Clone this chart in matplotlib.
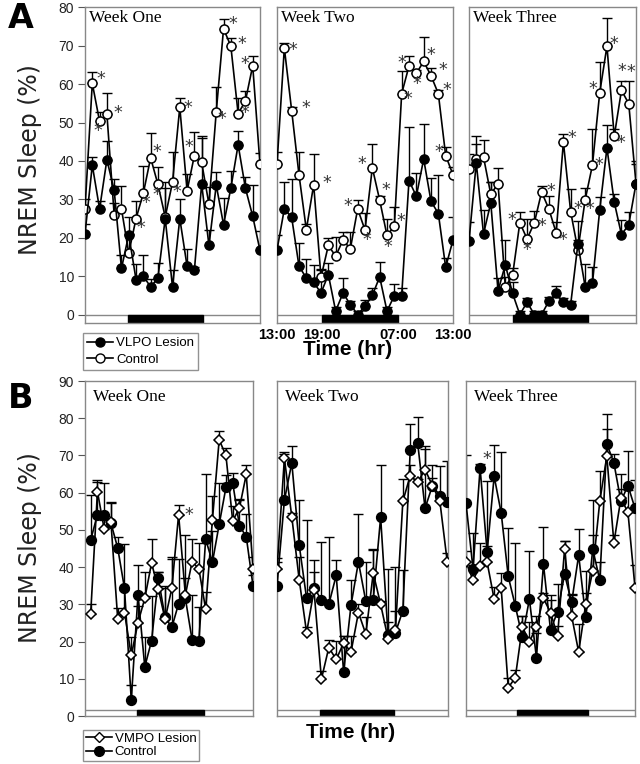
import numpy as np
import matplotlib
matplotlib.use('Agg')
import matplotlib.pyplot as plt
from matplotlib.lines import Line2D
from matplotlib.patches import Rectangle

plt.rcParams['font.family'] = ['Liberation Sans', 'DejaVu Sans']

# ---------------- data (hourly bins, 13:00 -> 13:00) ----------------
hours = np.arange(25)
hours_w3a = np.arange(1, 25)
hours_w2b = np.arange(24)

# Panel A: VLPO lesion (filled) vs control (open)
a1_ctrl = [27.5, 60.2, 50.3, 52.3, 26, 27.5, 16, 25, 31.6, 40.8, 33.9, 25.4, 34.4, 54, 32.2,
           41.4, 39.6, 28.7, 52.8, 74.4, 69.9, 52.3, 55.6, 64.8, 39.1]
a1_ctrl_err = [2.7, 3, 2.5, 5.3, 3, 6, 5, 4.5, 7, 6.5, 4.5, 9, 8, 2.5, 4.5,
               6, 7, 4.5, 6.5, 2.5, 2, 4, 2.5, 2.5, 3]
a1_les = [21, 38.9, 27.5, 40.3, 32.4, 12, 20.8, 9.1, 10, 7.2, 9.5, 25, 7.2, 25, 12.6,
          11.5, 34, 18, 33.7, 23.4, 32.9, 44.2, 32.9, 25.6, 16.7]
a1_les_err = [2.5, 2, 2, 5, 3, 3.5, 4.5, 4, 5.5, 2, 4, 8, 4.5, 5, 4.5,
              1, 12, 4, 3.5, 7, 4.5, 3.5, 3, 8, 5]

a2_ctrl = [39.2, 69.4, 53.1, 36.4, 22.1, 33.8, 9.7, 18, 15.2, 19.4, 17.1, 27.5, 22, 38.2, 29.8,
           20.6, 23, 57.5, 64.7, 62.8, 65.9, 62.2, 57.5, 41.4, 36.4]
a2_ctrl_err = [3, 1.3, 1, 6, 1.6, 8, 2.2, 2, 5, 2, 4.3, 2.2, 4.5, 6.3, 1,
               4.4, 5, 6, 2.7, 1, 6.4, 2, 1, 2.3, 2]
a2_les = [16.8, 27.5, 25.3, 12.6, 9.5, 8.4, 5.6, 10.4, 0.9, 5.6, 2.6, 0, 2.2, 5, 9.8,
          0.9, 4.9, 4.9, 34.9, 30.8, 40.5, 29.5, 26.3, 12.3, 19.4]
a2_les_err = [4, 7, 10, 6, 5, 4.5, 6, 3, 1, 4, 1, 1, 1.5, 2, 4,
              1, 3, 2, 14, 6, 9, 6, 10, 2.5, 6]

a3_ctrl = [37.8, 40.4, 41, 31.3, 34.1, 7.2, 10.2, 23.9, 19.7, 23.9, 31.9, 27.5, 21.3, 44.9,
           26.8, 16.8, 29.9, 38.9, 57.7, 69.9, 46.4, 58.4, 54.9, 34.1]
a3_ctrl_err = [4, 6, 4.4, 3.2, 4.1, 2.6, 2, 2.8, 5.3, 3, 1.5, 3.3, 2.7, 2.2,
               5.9, 7.5, 3, 9.5, 8, 7.4, 2, 2.4, 5.9, 6]
a3_les = [19.1, 39.5, 21, 29.1, 6.1, 13, 5.5, 0, 3.2, 0, 0, 3.5, 5.5, 3.2,
          2.6, 18.4, 7.2, 8.1, 27.2, 43.4, 29.3, 20.8, 23.4, 34.1]
a3_les_err = [5, 5, 6.3, 5.4, 3.4, 6.5, 3, 1, 1, 1, 1, 1, 2, 1,
              1, 1, 5.9, 4.3, 3.4, 6, 2.2, 3.7, 3.2, 5.2]

# Panel B: VMPO lesion (open diamond) vs control (filled)
b1_les = [27.5, 60.3, 50.2, 52, 26, 27.8, 16.3, 25.1, 31.6, 41.1, 34.1, 26, 34.3, 54.1, 32.5,
          41.5, 39.5, 28.7, 52.7, 74.2, 70, 52.4, 55.9, 64.9, 39.6]
b1_les_err = a1_ctrl_err
b1_ctrl = [47.3, 54.1, 54.1, 51.8, 45.1, 34.3, 4.3, 32.6, 13.2, 20.2, 37, 26.5, 23.8, 30.2, 31.6,
           20.4, 20.2, 47.5, 41.3, 51.5, 61.4, 62.6, 51.1, 48.2, 35]
b1_ctrl_err = [12, 8.7, 8.5, 5.8, 3, 12, 4, 8, 8, 12, 1.6, 8, 19, 12, 17,
               12, 9, 17.5, 8.5, 11, 3.4, 2.6, 7, 6, 3]

b2_les = [39.5, 69.2, 53.5, 36.6, 22.4, 33.8, 9.9, 18.4, 15.2, 19.6, 17.2, 27.8, 22, 38.4, 30,
          20.8, 23.1, 57.7, 64.6, 62.8, 66.2, 61.9, 57.7, 41.4]
b2_les_err = a2_ctrl_err[:24]
b2_ctrl = [35, 58, 68, 45.9, 31.6, 34.5, 31.2, 30, 37.8, 11.8, 29.8, 41.4, 30.8, 31.2, 53.4,
           21.8, 22.4, 28.3, 71.5, 73.4, 55.8, 61.9, 59.2, 57.6]
b2_ctrl_err = [6.5, 13, 4.5, 12, 21, 4.3, 15.6, 18, 4, 9.7, 6.8, 13, 10.5, 13.6, 14,
               17.7, 17.5, 11, 7, 7, 16, 5.4, 8, 11]

b3_les = [41.4, 36.5, 40.4, 41.3, 31.4, 34.3, 7.6, 10.3, 24, 19.9, 24, 31.6, 27.8, 21.5, 44.8,
          26.9, 17.2, 30, 39, 57.7, 69.8, 46.5, 58.5, 54.7, 34.5]
b3_les_err = [3] + a3_ctrl_err
b3_ctrl = [57.2, 39.5, 66.6, 44.1, 64.4, 54.5, 37.5, 29.6, 21.1, 31.4, 15.7, 40.8, 23.1, 28, 38.1,
           30.5, 43.2, 26.5, 44.8, 36.5, 73.1, 68, 57.7, 61.9, 55.8]
b3_ctrl_err = [13, 9.6, 1, 19, 8.4, 16.4, 13, 17, 5.8, 13, 6.7, 10, 9.4, 7.4, 8.8,
               2, 7, 12.5, 13.3, 5, 8, 2.4, 7.3, 9.4, 7.6]

# significance marks: (index into series, dx px, dy px)
a1_stars = [(1, 9, 6), (2, -2, -8), (3, 11, 3), (7, 5, -7), (8, 3, -8), (9, 6, 8), (10, -1, -9),
            (12, 4, -8), (13, 8, 1), (14, 2, 46), (18, 6, -5), (19, 9, 7), (20, 11, 4),
            (21, 7, 3), (23, -8, 4)]
a2_stars = [(1, 9, 0), (2, 14, 5), (5, 13, 4), (11, -10, 5), (12, 2, -8), (13, -10, 6),
            (14, 6, 12), (15, 1, -10), (16, 7, 7), (17, 6, -3), (18, -7, 5), (19, 1, -9),
            (20, 7, 8), (21, 12, 8), (22, 9, 6), (23, -7, 6)]
a3_stars = [(7, -8, 5), (8, 0, -9), (9, 7, -1), (10, 9, 3), (12, 7, -5), (13, 8, 6), (14, 7, 5),
            (16, 5, -7), (17, 6, 2), (18, -7, 6), (19, 7, 4), (20, 7, -5), (21, 0, 21),
            (22, 2, 34)]
b1_stars = [(13, 10, 2)]
b3_stars = [(2, 7, 11)]

# dark period (lights off) extents per panel
dark_a = [(5.9, 16.2), (6.1, 16.5), (7.1, 17.4)]
dark_b = [(6.8, 16.7), (5.8, 15.8), (7.2, 17.3)]

week_names = ['Week One', 'Week Two', 'Week Three']
time_ticks = [0, 6.1, 16.6, 24]
time_labels = ['13:00', '19:00', '07:00', '13:00']

# ---------------- figure ----------------
fig = plt.figure(figsize=(6.4, 7.64), dpi=100)
W, H = 640.0, 764.0


def add_ax(x0, x1, ytop, ybot):
    return fig.add_axes([x0 / W, 1 - ybot / H, (x1 - x0) / W, (ybot - ytop) / H])


def draw_series(ax, x, y, err, marker, face, ms):
    y = np.asarray(y, float)
    err = np.asarray(err, float)
    ax.errorbar(x, y, yerr=[np.zeros_like(err), err], fmt='none', ecolor='black',
                elinewidth=1, capsize=3.5, capthick=1, zorder=2)
    ax.plot(x, y, color='black', lw=1.2, marker=marker, ms=ms, mfc=face,
            mec='black', mew=1.1, zorder=3)


def draw_stars(ax, x, y, stars):
    for i, dx, dy in stars:
        ax.annotate('*', (x[i], y[i]), xytext=(dx, dy - 2), textcoords='offset pixels',
                    ha='center', va='center', fontsize=12.5, color='#333333',
                    family='DejaVu Sans')


def style_panel(ax, first, ylim, yticks):
    for s in ax.spines.values():
        s.set_color('#888888')
        s.set_linewidth(1)
    ax.set_xticks([])
    if first:
        ax.set_yticks(yticks)
        ax.tick_params(axis='y', direction='out', length=5, color='#555555',
                       labelsize=10, labelcolor='#222222', pad=3)
    else:
        ax.set_yticks([])
    ax.set_ylim(*ylim)


# ----- Panel A -----
a_x = [(85, 260, (0, 24)), (277, 453, (0, 24)), (469, 636, (1, 24))]
a_data = [
    (hours, a1_les, a1_les_err, a1_ctrl, a1_ctrl_err, a1_stars),
    (hours, a2_les, a2_les_err, a2_ctrl, a2_ctrl_err, a2_stars),
    (hours_w3a, a3_les, a3_les_err, a3_ctrl, a3_ctrl_err, a3_stars),
]
for k in range(3):
    x0, x1, xl = a_x[k]
    ax = add_ax(x0, x1, 7.3, 322.6)
    x, les, les_e, ctrl, ctrl_e, stars = a_data[k]
    style_panel(ax, k == 0, (-2.1, 80), range(0, 81, 10))
    ax.set_xlim(*xl)
    ax.axhline(0, color='#888888', lw=1, zorder=1)
    d0, d1 = dark_a[k]
    ax.add_patch(Rectangle((d0, -2.1), d1 - d0, 2.1, color='black', zorder=1))
    draw_series(ax, x, ctrl, ctrl_e, 'o', 'white', 6.5)
    draw_series(ax, x, les, les_e, 'o', 'black', 6.5)
    draw_stars(ax, x, ctrl, stars)
    ax.text(0.025, 0.99, week_names[k], transform=ax.transAxes, ha='left', va='top',
            fontsize=12.5, family='Liberation Serif')
    if k == 1:
        for t, lab in zip(time_ticks, time_labels):
            ax.text(t, -3.5, lab, ha='center', va='top', fontsize=10.5, fontweight='bold',
                    clip_on=False)

fig.text(348 / W, 1 - 350 / H, 'Time (hr)', ha='center', va='center', fontsize=15,
         fontweight='bold')
fig.text(30 / W, 1 - 160 / H, 'NREM Sleep (%)', ha='center', va='center', rotation=90,
         fontsize=17, color='#222222', family='DejaVu Sans')
fig.text(8 / W, 1 - 18 / H, 'A', ha='left', va='center', fontsize=24, fontweight='bold',
         family='DejaVu Sans')

leg_a = [Line2D([], [], color='black', lw=1.2, marker='o', ms=6.5, mfc='black', mec='black'),
         Line2D([], [], color='black', lw=1.2, marker='o', ms=6.5, mfc='white', mec='black')]
fig.legend(leg_a, ['VLPO Lesion', 'Control'], loc='upper left',
           bbox_to_anchor=(83 / W, 1 - 333 / H), fontsize=9.5, frameon=True, fancybox=False,
           edgecolor='#777777', borderpad=0.3, labelspacing=0.35, handlelength=2.0,
           handletextpad=0.2, borderaxespad=0)

# ----- Panel B -----
b_x = [(85, 253, (-0.84, 24)), (277, 448, (0, 23.1)), (466, 635, (0, 24))]
b_data = [
    (hours, b1_les, b1_les_err, b1_ctrl, b1_ctrl_err, b1_stars, 'les'),
    (hours_w2b, b2_les, b2_les_err, b2_ctrl, b2_ctrl_err, [], None),
    (hours, b3_les, b3_les_err, b3_ctrl, b3_ctrl_err, b3_stars, 'ctrl'),
]
for k in range(3):
    x0, x1, xl = b_x[k]
    ax = add_ax(x0, x1, 381, 716)
    x, les, les_e, ctrl, ctrl_e, stars, star_on = b_data[k]
    style_panel(ax, k == 0, (0, 90), range(0, 91, 10))
    ax.set_xlim(*xl)
    ax.axhline(1.6, color='#888888', lw=1, zorder=1)
    d0, d1 = dark_b[k]
    ax.add_patch(Rectangle((d0, 0), d1 - d0, 1.6, color='black', zorder=1))
    draw_series(ax, x, ctrl, ctrl_e, 'o', 'black', 7)
    draw_series(ax, x, les, les_e, 'D', 'white', 5)
    if star_on == 'les':
        draw_stars(ax, x, les, stars)
    elif star_on == 'ctrl':
        draw_stars(ax, x, ctrl, stars)
    ax.text(0.045, 0.975, week_names[k], transform=ax.transAxes, ha='left', va='top',
            fontsize=12.5, family='Liberation Serif')

fig.text(351 / W, 1 - 733 / H, 'Time (hr)', ha='center', va='center', fontsize=15,
         fontweight='bold')
fig.text(30 / W, 1 - 548 / H, 'NREM Sleep (%)', ha='center', va='center', rotation=90,
         fontsize=17, color='#222222', family='DejaVu Sans')
fig.text(8 / W, 1 - 398 / H, 'B', ha='left', va='center', fontsize=24, fontweight='bold',
         family='DejaVu Sans')

leg_b = [Line2D([], [], color='black', lw=1.2, marker='D', ms=5, mfc='white', mec='black'),
         Line2D([], [], color='black', lw=1.2, marker='o', ms=7, mfc='black', mec='black')]
fig.legend(leg_b, ['VMPO Lesion', 'Control'], loc='upper left',
           bbox_to_anchor=(83 / W, 1 - 730 / H), fontsize=9.5, frameon=True, fancybox=False,
           edgecolor='#777777', borderpad=0.2, labelspacing=0.1, handlelength=2.0,
           handletextpad=0.2, borderaxespad=0)

fig.savefig('out.png', dpi=100)
